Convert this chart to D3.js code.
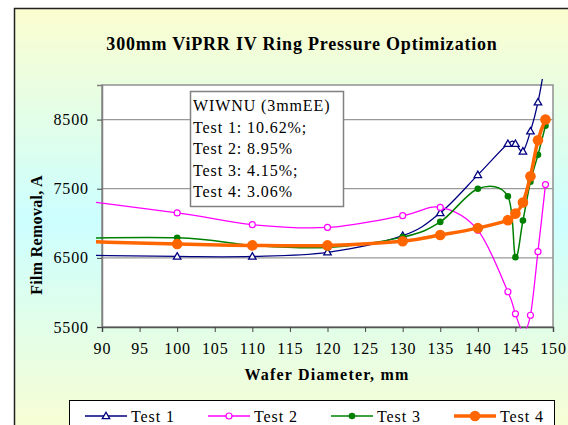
<!DOCTYPE html>
<html>
<head>
<meta charset="utf-8">
<script src="https://cdn.jsdelivr.net/npm/d3@7"></script>
<style>
  body { margin: 0; background: #fff; }
  text { font-family: "Liberation Serif", "Times New Roman", serif; fill: #000; }
</style>
</head>
<body>
<svg width="568" height="425"></svg>
<script>
// wafer positions (mm) and film removal per test
var diameters = [80, 100, 110, 120, 130, 135, 140, 144, 145, 146, 147, 148, 149];
var test1 = [6550, 6520, 6520, 6580, 6820, 7150, 7700, 8150, 8150, 8040, 8330, 8750, 9350];
var test2 = [7430, 7150, 6980, 6940, 7110, 7230, 6900, 6010, 5690, 5440, 5670, 6590, 7560];
var test3 = [6770, 6790, 6680, 6650, 6800, 7020, 7500, 7390, 6510, 7040, 7600, 7990, 8410];
var test4 = [6760, 6700, 6680, 6680, 6740, 6830, 6930, 7045, 7140, 7300, 7680, 8200, 8500];

var seriesNames = ["Test 1", "Test 2", "Test 3", "Test 4"];
var xTicks = [90, 95, 100, 105, 110, 115, 120, 125, 130, 135, 140, 145, 150];
var yTicks = [5500, 6500, 7500, 8500];
var noteLines = ["WIWNU (3mmEE)", "Test 1: 10.62%;", "Test 2: 8.95%", "Test 3: 4.15%;", "Test 4: 3.06%"];

var styles = [
  {color: "#000080", width: 1.3, marker: "triangle"},
  {color: "#ff00ff", width: 1.3, marker: "open"},
  {color: "#008000", width: 1.5, marker: "dot", r: 3.3},
  {color: "#ff6600", width: 3.5, marker: "dot", r: 5.3}
];

var svg = d3.select("svg");

var pLeft = 102, pRight = 553, pTop = 85, pBottom = 327;

var x = d3.scaleLinear().domain([90, 150]).range([pLeft, pRight]);
var y = d3.scaleLinear().domain([5500, 9000]).range([pBottom, pTop]);

// background gradient
var defs = svg.append("defs");
var grad = defs.append("linearGradient").attr("id", "bg")
  .attr("x1", 0).attr("y1", 0).attr("x2", 0).attr("y2", 1);
grad.append("stop").attr("offset", "0%").attr("stop-color", "#fbfdcf");
grad.append("stop").attr("offset", "48%").attr("stop-color", "#ccffff");
grad.append("stop").attr("offset", "100%").attr("stop-color", "#fbfdcf");

defs.append("clipPath").attr("id", "clip")
  .append("rect")
  .attr("x", pLeft - 6).attr("y", pTop - 6)
  .attr("width", pRight - pLeft + 6).attr("height", pBottom - pTop + 7.5);

svg.append("rect")
  .attr("x", 14.5).attr("y", 8.5)
  .attr("width", 600).attr("height", 440)
  .attr("fill", "url(#bg)")
  .attr("stroke", "#222").attr("stroke-width", 1.5);

svg.append("rect")
  .attr("x", pLeft).attr("y", pTop)
  .attr("width", pRight - pLeft).attr("height", pBottom - pTop)
  .attr("fill", "#fff")
  .attr("stroke", "#909090").attr("stroke-width", 1.5);

// gridlines
svg.append("g").selectAll("line")
  .data(yTicks.filter(function(d) { return d > 5500; }))
  .enter().append("line")
  .attr("x1", pLeft).attr("x2", pRight)
  .attr("y1", function(d) { return y(d); })
  .attr("y2", function(d) { return y(d); })
  .attr("stroke", "#999").attr("stroke-width", 1.2);

// axes
var yAxis = svg.append("g")
  .attr("transform", "translate(" + pLeft + ",0)")
  .call(d3.axisLeft(y).tickValues(yTicks).tickSize(5).tickPadding(8).tickFormat(d3.format("d")));
var xAxis = svg.append("g")
  .attr("transform", "translate(0," + pBottom + ")")
  .call(d3.axisBottom(x).tickValues(xTicks).tickSize(5).tickPadding(11).tickFormat(d3.format("d")));

yAxis.select(".domain").attr("stroke", "#808080").attr("stroke-width", 1.5);
xAxis.select(".domain").attr("stroke", "#555").attr("stroke-width", 1.5);
svg.selectAll(".tick line").attr("stroke", "#444");
svg.selectAll(".tick text")
  .attr("font-family", "Liberation Serif")
  .attr("font-size", 16)
  .attr("letter-spacing", 0.9)
  .attr("fill", "#000");

// series
var allValues = [test1, test2, test3, test4];
var line = d3.line()
  .x(function(d) { return x(d.d); })
  .y(function(d) { return y(d.v); })
  .curve(d3.curveCardinal.tension(0));

function drawMarker(g, st, cx, cy) {
  if (st.marker == "triangle") {
    g.append("path")
      .attr("d", d3.symbol(d3.symbolTriangle, 24)())
      .attr("transform", "translate(" + cx + "," + (cy + 0.5) + ")")
      .attr("fill", "#fff").attr("stroke", st.color).attr("stroke-width", 1.3);
  } else if (st.marker == "open") {
    g.append("circle").attr("cx", cx).attr("cy", cy).attr("r", 3)
      .attr("fill", "#fff").attr("stroke", st.color).attr("stroke-width", 1.2);
  } else {
    g.append("circle").attr("cx", cx).attr("cy", cy).attr("r", st.r)
      .attr("fill", st.color);
  }
}

allValues.forEach(function(vals, i) {
  var st = styles[i];
  var pts = diameters.map(function(d, j) { return {d: d, v: vals[j]}; });
  var g = svg.append("g");
  g.append("path")
    .attr("clip-path", "url(#clip)")
    .attr("d", line(pts))
    .attr("fill", "none")
    .attr("stroke", st.color)
    .attr("stroke-width", st.width)
    .attr("stroke-linejoin", "round");
  pts.forEach(function(p) {
    if (p.d >= 90 && p.d <= 150 && p.v >= 5500 && p.v <= 9000) {
      drawMarker(g, st, x(p.d), y(p.v));
    }
  });
});

// note box
svg.append("rect")
  .attr("x", 190.5).attr("y", 91.5)
  .attr("width", 153).attr("height", 115)
  .attr("fill", "#fff")
  .attr("stroke", "#808080").attr("stroke-width", 1.5);

svg.append("g").selectAll("text")
  .data(noteLines)
  .enter().append("text")
  .attr("x", 193)
  .attr("y", function(d, i) { return 111 + i * 21.5; })
  .attr("font-size", 16)
  .attr("letter-spacing", 0.9)
  .text(function(d) { return d; });

// titles
svg.append("text")
  .attr("x", 302).attr("y", 50)
  .attr("text-anchor", "middle")
  .attr("font-size", 18).attr("font-weight", "bold")
  .attr("letter-spacing", 0.8)
  .text("300mm ViPRR IV Ring Pressure Optimization");

svg.append("text")
  .attr("x", 327).attr("y", 380)
  .attr("text-anchor", "middle")
  .attr("font-size", 16).attr("font-weight", "bold")
  .attr("letter-spacing", 1.2)
  .text("Wafer Diameter, mm");

svg.append("text")
  .attr("transform", "translate(42,235) rotate(-90)")
  .attr("text-anchor", "middle")
  .attr("font-size", 16).attr("font-weight", "bold")
  .attr("letter-spacing", 0.3)
  .text("Film Removal, A");

// legend
svg.append("rect")
  .attr("x", 69.5).attr("y", 400.5)
  .attr("width", 485).attr("height", 40)
  .attr("fill", "#fff")
  .attr("stroke", "#000").attr("stroke-width", 1);

seriesNames.forEach(function(name, i) {
  var st = styles[i];
  var lx = 85 + i * 123;
  var g = svg.append("g");
  g.append("line")
    .attr("x1", lx).attr("x2", lx + 42)
    .attr("y1", 416).attr("y2", 416)
    .attr("stroke", st.color).attr("stroke-width", st.width);
  drawMarker(g, st, lx + 21, 416);
  g.append("text")
    .attr("x", lx + 46).attr("y", 421.5)
    .attr("font-size", 16)
    .attr("letter-spacing", 0.9)
    .text(name);
});
</script>
</body>
</html>
